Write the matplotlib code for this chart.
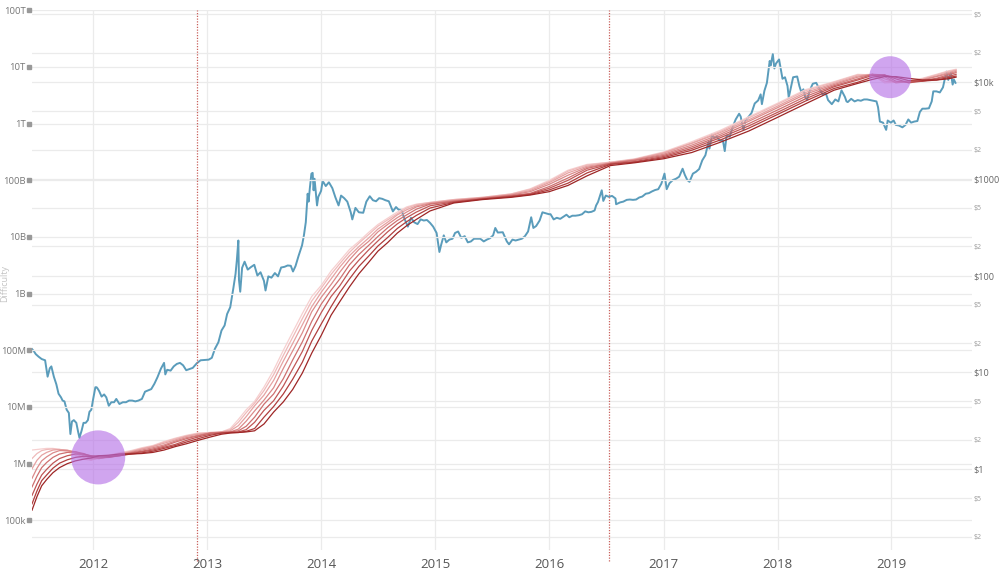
import matplotlib
matplotlib.use("Agg")
import matplotlib.pyplot as plt
import pandas as pd

# ---------------- data ----------------
price_dates = [
    # 2011
    "2011-06-18", "2011-06-25", "2011-07-01", "2011-07-10", "2011-07-20", "2011-07-31", "2011-08-08", "2011-08-15",
    "2011-08-20", "2011-08-28", "2011-09-05", "2011-09-12", "2011-09-20", "2011-09-25", "2011-10-01", "2011-10-08",
    "2011-10-15", "2011-10-20", "2011-10-25", "2011-10-31", "2011-11-08", "2011-11-14", "2011-11-18", "2011-11-25",
    "2011-12-01", "2011-12-08", "2011-12-15", "2011-12-20", "2011-12-26",
    # 2012
    "2012-01-01", "2012-01-08", "2012-01-12", "2012-01-15", "2012-01-20", "2012-01-28", "2012-02-05", "2012-02-12",
    "2012-02-20", "2012-02-28", "2012-03-08", "2012-03-15", "2012-03-25", "2012-04-05", "2012-04-15", "2012-04-25",
    "2012-05-05", "2012-05-15", "2012-05-25", "2012-06-05", "2012-06-15", "2012-06-25", "2012-07-05", "2012-07-15",
    "2012-07-25", "2012-08-05", "2012-08-15", "2012-08-19", "2012-08-25", "2012-09-05", "2012-09-15", "2012-09-25",
    "2012-10-05", "2012-10-15", "2012-10-25", "2012-11-05", "2012-11-15", "2012-11-28", "2012-12-10", "2012-12-25",
    # 2013
    "2013-01-05", "2013-01-15", "2013-01-25", "2013-02-05", "2013-02-15", "2013-02-25", "2013-03-05", "2013-03-15",
    "2013-03-25", "2013-04-01", "2013-04-05", "2013-04-10", "2013-04-12", "2013-04-16", "2013-04-22", "2013-04-30",
    "2013-05-10", "2013-05-20", "2013-05-31", "2013-06-10", "2013-06-20", "2013-07-01", "2013-07-06", "2013-07-15",
    "2013-07-25", "2013-08-05", "2013-08-15", "2013-08-25", "2013-09-05", "2013-09-15", "2013-09-25", "2013-10-02",
    "2013-10-10", "2013-10-20", "2013-10-31", "2013-11-06", "2013-11-12", "2013-11-18", "2013-11-21", "2013-11-25",
    "2013-11-30", "2013-12-04", "2013-12-07", "2013-12-10", "2013-12-18", "2013-12-22", "2013-12-31",
    # 2014
    "2014-01-05", "2014-01-15", "2014-01-25", "2014-02-05", "2014-02-15", "2014-02-25", "2014-03-05", "2014-03-15",
    "2014-03-25", "2014-04-05", "2014-04-10", "2014-04-20", "2014-05-01", "2014-05-15", "2014-05-25", "2014-06-05",
    "2014-06-15", "2014-06-25", "2014-07-05", "2014-07-15", "2014-07-25", "2014-08-05", "2014-08-18", "2014-08-28",
    "2014-09-05", "2014-09-15", "2014-09-22", "2014-10-05", "2014-10-15", "2014-10-25", "2014-11-05", "2014-11-15",
    "2014-11-25", "2014-12-05", "2014-12-15", "2014-12-25",
    # 2015
    "2015-01-05", "2015-01-14", "2015-01-20", "2015-01-28", "2015-02-05", "2015-02-15", "2015-02-25", "2015-03-05",
    "2015-03-15", "2015-03-25", "2015-04-05", "2015-04-15", "2015-04-25", "2015-05-05", "2015-05-15", "2015-05-25",
    "2015-06-05", "2015-06-15", "2015-06-25", "2015-07-05", "2015-07-12", "2015-07-20", "2015-08-05", "2015-08-18",
    "2015-08-25", "2015-09-05", "2015-09-15", "2015-09-25", "2015-10-05", "2015-10-15", "2015-10-25", "2015-11-04",
    "2015-11-11", "2015-11-20", "2015-12-01", "2015-12-10", "2015-12-20", "2015-12-31",
    # 2016
    "2016-01-05", "2016-01-15", "2016-01-25", "2016-02-05", "2016-02-15", "2016-02-25", "2016-03-05", "2016-03-15",
    "2016-03-25", "2016-04-05", "2016-04-15", "2016-04-25", "2016-05-05", "2016-05-15", "2016-05-25", "2016-05-30",
    "2016-06-05", "2016-06-12", "2016-06-17", "2016-06-22", "2016-06-30", "2016-07-10", "2016-07-20", "2016-07-31",
    "2016-08-02", "2016-08-15", "2016-08-25", "2016-09-05", "2016-09-15", "2016-09-25", "2016-10-05", "2016-10-15",
    "2016-10-25", "2016-11-05", "2016-11-15", "2016-11-25", "2016-12-05", "2016-12-15", "2016-12-25",
    # 2017
    "2017-01-04", "2017-01-11", "2017-01-20", "2017-01-31", "2017-02-10", "2017-02-20", "2017-03-03", "2017-03-10",
    "2017-03-18", "2017-03-25", "2017-04-05", "2017-04-15", "2017-04-25", "2017-05-05", "2017-05-15", "2017-05-25",
    "2017-05-28", "2017-06-06", "2017-06-12", "2017-06-20", "2017-06-30", "2017-07-10", "2017-07-16", "2017-07-22",
    "2017-08-01", "2017-08-10", "2017-08-20", "2017-08-31", "2017-09-05", "2017-09-14", "2017-09-20", "2017-09-30",
    "2017-10-10", "2017-10-20", "2017-10-31", "2017-11-08", "2017-11-12", "2017-11-20", "2017-11-28", "2017-12-07",
    "2017-12-10", "2017-12-17", "2017-12-22", "2017-12-27",
    # 2018
    "2018-01-06", "2018-01-10", "2018-01-17", "2018-01-25", "2018-02-02", "2018-02-06", "2018-02-12", "2018-02-20",
    "2018-03-05", "2018-03-12", "2018-03-18", "2018-03-25", "2018-03-31", "2018-04-06", "2018-04-15", "2018-04-24",
    "2018-05-05", "2018-05-15", "2018-05-25", "2018-06-05", "2018-06-12", "2018-06-24", "2018-07-05", "2018-07-15",
    "2018-07-25", "2018-08-05", "2018-08-10", "2018-08-14", "2018-08-25", "2018-09-05", "2018-09-15", "2018-09-25",
    "2018-10-05", "2018-10-15", "2018-10-25", "2018-11-05", "2018-11-14", "2018-11-19", "2018-11-25", "2018-12-05",
    "2018-12-15", "2018-12-20", "2018-12-30",
    # 2019
    "2019-01-08", "2019-01-15", "2019-01-25", "2019-02-05", "2019-02-15", "2019-02-24", "2019-03-05", "2019-03-15",
    "2019-03-25", "2019-04-02", "2019-04-10", "2019-04-20", "2019-05-01", "2019-05-10", "2019-05-15", "2019-05-25",
    "2019-06-05", "2019-06-15", "2019-06-26", "2019-07-02", "2019-07-10", "2019-07-16", "2019-07-20", "2019-07-25",
]
price_usd = [
    # 2011
    17.5, 16.5, 15.4, 14.5, 13.7, 13.3, 9.0, 11.0, 11.5, 9.0, 7.5, 6.0, 5.5, 5.1, 5.0, 4.1,
    3.8, 2.3, 3.1, 3.2, 3.0, 2.4, 2.1, 2.5, 3.0, 3.0, 3.2, 3.9, 4.1,
    # 2012
    5.3, 7.0, 7.0, 6.8, 6.4, 5.6, 5.9, 5.5, 4.5, 4.9, 4.9, 5.3, 4.7, 4.9, 4.9, 5.1,
    5.1, 5.0, 5.1, 5.3, 6.3, 6.5, 6.7, 7.6, 8.9, 10.9, 12.5, 9.5, 10.6, 10.4, 11.5, 12.2,
    12.5, 11.8, 10.5, 10.8, 11.1, 12.4, 13.3, 13.4,
    # 2013
    13.5, 14.1, 17.5, 20.4, 27, 30.5, 40, 47, 74, 104, 142, 230, 90, 68, 120, 139,
    115, 122, 129, 100, 108, 88, 70, 98, 95, 106, 98, 121, 123, 127, 126, 110,
    125, 160, 205, 260, 355, 700, 580, 800, 1130, 1150, 760, 1000, 530, 650, 750,
    # 2014
    950, 840, 920, 800, 640, 530, 670, 630, 580, 450, 380, 500, 450, 445, 580, 660,
    600, 585, 630, 620, 600, 585, 460, 510, 480, 475, 400, 320, 395, 355, 340, 380,
    370, 375, 350, 320,
    # 2015
    275, 175, 210, 260, 220, 235, 240, 275, 285, 245, 255, 220, 225, 240, 240, 240,
    225, 235, 243, 260, 310, 278, 280, 225, 210, 235, 230, 235, 240, 255, 285, 400,
    310, 325, 370, 450, 440, 430,
    # 2016
    430, 380, 395, 385, 405, 425, 400, 415, 415, 420, 430, 460, 450, 455, 470, 530,
    575, 680, 760, 590, 670, 650, 665, 625, 545, 570, 580, 605, 610, 605, 610, 640,
    655, 700, 710, 740, 765, 780, 890,
    # 2017
    1130, 780, 900, 970, 1000, 1050, 1270, 1100, 970, 930, 1130, 1180, 1260, 1550, 1750, 2400,
    2050, 2880, 2650, 2720, 2480, 2500, 1930, 2800, 2720, 3400, 4100, 4700, 4400, 3200, 4000, 4350,
    4800, 6000, 6450, 7450, 5900, 8100, 9800, 16500, 14800, 19400, 13800, 15500,
    # 2018
    17100, 14500, 10800, 11200, 9100, 6900, 8500, 11200, 11400, 9100, 7900, 8400, 6900, 6600, 8300, 9600,
    9800, 8500, 7500, 7600, 6500, 5900, 6600, 6300, 8200, 7000, 6300, 6200, 6700, 6300, 6500, 6400,
    6600, 6600, 6500, 6400, 6300, 5500, 3900, 3800, 3200, 4000, 3800,
    # 2019
    4000, 3600, 3550, 3400, 3600, 4100, 3800, 3900, 3950, 4900, 5300, 5300, 5350, 6300, 8000, 8000,
    7800, 8800, 12800, 10500, 12500, 9400, 10600, 9800,
]

ribbon_dates = [
    "2011-06-19", "2011-07-05", "2011-07-20", "2011-08-05", "2011-08-25", "2011-09-15", "2011-10-10", "2011-11-05",
    "2011-12-01", "2011-12-25", "2012-01-20", "2012-02-20", "2012-03-25", "2012-05-01", "2012-06-05", "2012-07-10",
    "2012-08-15", "2012-09-20", "2012-10-25", "2012-12-01", "2013-01-10", "2013-02-15", "2013-03-15", "2013-04-10",
    "2013-05-05", "2013-06-01", "2013-07-01", "2013-08-01", "2013-09-01", "2013-10-01", "2013-11-01", "2013-12-01",
    "2014-01-01", "2014-02-01", "2014-03-01", "2014-04-01", "2014-05-01", "2014-06-01", "2014-07-01", "2014-08-01",
    "2014-09-01", "2014-10-01", "2014-11-01", "2014-12-15", "2015-03-01", "2015-06-01", "2015-09-01", "2015-11-01",
    "2016-01-01", "2016-03-01", "2016-05-01", "2016-07-15", "2016-10-01", "2017-01-01", "2017-04-01", "2017-07-01",
    "2017-10-01", "2018-01-01", "2018-04-01", "2018-07-01", "2018-09-15", "2018-11-01", "2018-12-10", "2019-01-15",
    "2019-02-25", "2019-04-10", "2019-05-25", "2019-07-01", "2019-07-27",
]
difficulty_ma_9 = [
    1.74e6, 1.78e6, 1.82e6, 1.86e6, 1.86e6, 1.78e6, 1.62e6, 1.41e6, 1.20e6, 1.15e6, 1.29e6, 1.41e6, 1.55e6, 1.70e6,
    1.91e6, 2.09e6, 2.46e6, 2.82e6, 3.16e6, 3.47e6, 3.55e6, 3.63e6, 4.17e6, 6.03e6, 8.91e6, 1.26e7, 2.24e7, 4.47e7,
    1.00e8, 2.09e8, 4.47e8, 8.91e8, 1.41e9, 2.51e9, 3.80e9, 6.03e9, 8.32e9, 1.20e10, 1.66e10, 2.14e10, 2.75e10,
    3.39e10, 3.80e10, 4.07e10, 4.57e10, 5.01e10, 5.75e10, 7.08e10, 1.00e11, 1.51e11, 1.91e11, 2.09e11, 2.40e11,
    3.16e11, 4.79e11, 7.59e11, 1.32e12, 2.29e12, 3.98e12, 5.50e12, 7.41e12, 7.24e12, 5.25e12, 5.37e12, 5.75e12,
    6.31e12, 7.41e12, 8.51e12, 9.12e12,
]
difficulty_ma_14 = [
    1.23e6, 1.51e6, 1.70e6, 1.78e6, 1.82e6, 1.78e6, 1.70e6, 1.51e6, 1.29e6, 1.17e6, 1.26e6, 1.38e6, 1.51e6, 1.66e6,
    1.86e6, 2.04e6, 2.40e6, 2.75e6, 3.09e6, 3.39e6, 3.55e6, 3.63e6, 3.98e6, 5.37e6, 7.94e6, 1.17e7, 1.95e7, 3.72e7,
    8.13e7, 1.70e8, 3.63e8, 7.41e8, 1.26e9, 2.19e9, 3.39e9, 5.37e9, 7.76e9, 1.10e10, 1.55e10, 2.00e10, 2.57e10,
    3.24e10, 3.72e10, 4.07e10, 4.57e10, 5.01e10, 5.75e10, 6.92e10, 9.55e10, 1.45e11, 1.86e11, 2.09e11, 2.34e11,
    3.09e11, 4.57e11, 7.24e11, 1.26e12, 2.19e12, 3.80e12, 5.37e12, 7.24e12, 7.41e12, 5.62e12, 5.37e12, 5.62e12,
    6.17e12, 7.24e12, 8.32e12, 8.91e12,
]
difficulty_ma_25 = [
    8.13e5, 1.15e6, 1.41e6, 1.58e6, 1.74e6, 1.78e6, 1.74e6, 1.58e6, 1.38e6, 1.23e6, 1.23e6, 1.35e6, 1.48e6, 1.62e6,
    1.82e6, 2.00e6, 2.29e6, 2.63e6, 3.02e6, 3.31e6, 3.47e6, 3.63e6, 3.80e6, 4.68e6, 6.76e6, 1.05e7, 1.62e7, 2.95e7,
    6.46e7, 1.32e8, 2.82e8, 5.89e8, 1.07e9, 1.82e9, 2.95e9, 4.68e9, 6.76e9, 9.55e9, 1.38e10, 1.82e10, 2.45e10,
    3.02e10, 3.55e10, 3.98e10, 4.47e10, 4.90e10, 5.62e10, 6.61e10, 9.12e10, 1.35e11, 1.78e11, 2.04e11, 2.34e11,
    3.02e11, 4.47e11, 6.92e11, 1.17e12, 2.04e12, 3.55e12, 5.13e12, 6.92e12, 7.41e12, 6.17e12, 5.37e12, 5.62e12,
    6.03e12, 6.92e12, 7.94e12, 8.71e12,
]
difficulty_ma_40 = [
    5.50e5, 8.32e5, 1.12e6, 1.32e6, 1.55e6, 1.70e6, 1.70e6, 1.62e6, 1.45e6, 1.29e6, 1.23e6, 1.32e6, 1.45e6, 1.58e6,
    1.74e6, 1.91e6, 2.14e6, 2.51e6, 2.88e6, 3.16e6, 3.47e6, 3.55e6, 3.63e6, 4.07e6, 5.62e6, 8.51e6, 1.32e7, 2.19e7,
    4.79e7, 9.77e7, 2.04e8, 4.79e8, 8.71e8, 1.45e9, 2.40e9, 3.98e9, 6.03e9, 8.32e9, 1.23e10, 1.66e10, 2.19e10,
    2.75e10, 3.39e10, 3.89e10, 4.37e10, 4.90e10, 5.50e10, 6.31e10, 8.51e10, 1.23e11, 1.70e11, 2.00e11, 2.29e11,
    2.88e11, 4.17e11, 6.46e11, 1.10e12, 1.91e12, 3.31e12, 4.90e12, 6.61e12, 7.41e12, 6.76e12, 5.25e12, 5.50e12,
    5.89e12, 6.76e12, 7.59e12, 8.32e12,
]
difficulty_ma_60 = [
    3.89e5, 6.03e5, 8.51e5, 1.05e6, 1.29e6, 1.48e6, 1.58e6, 1.62e6, 1.51e6, 1.35e6, 1.26e6, 1.29e6, 1.41e6, 1.55e6,
    1.66e6, 1.82e6, 2.04e6, 2.40e6, 2.75e6, 3.09e6, 3.47e6, 3.55e6, 3.63e6, 3.80e6, 4.57e6, 6.61e6, 1.12e7, 1.70e7,
    3.16e7, 6.76e7, 1.41e8, 3.24e8, 6.61e8, 1.15e9, 1.82e9, 3.24e9, 4.90e9, 7.08e9, 1.02e10, 1.45e10, 1.95e10,
    2.45e10, 3.09e10, 3.80e10, 4.27e10, 4.79e10, 5.37e10, 5.89e10, 7.76e10, 1.10e11, 1.62e11, 2.00e11, 2.24e11,
    2.75e11, 3.89e11, 6.03e11, 1.00e12, 1.74e12, 3.02e12, 4.68e12, 6.17e12, 7.41e12, 7.24e12, 5.62e12, 5.37e12,
    5.75e12, 6.31e12, 7.24e12, 7.94e12,
]
difficulty_ma_90 = [
    2.75e5, 4.37e5, 6.31e5, 7.94e5, 1.02e6, 1.23e6, 1.38e6, 1.48e6, 1.48e6, 1.38e6, 1.32e6, 1.29e6, 1.38e6, 1.51e6,
    1.62e6, 1.74e6, 1.95e6, 2.19e6, 2.57e6, 2.95e6, 3.31e6, 3.47e6, 3.55e6, 3.63e6, 3.98e6, 5.37e6, 8.71e6, 1.29e7,
    2.34e7, 4.68e7, 9.55e7, 2.24e8, 4.68e8, 8.91e8, 1.38e9, 2.51e9, 3.89e9, 5.89e9, 8.51e9, 1.23e10, 1.70e10,
    2.19e10, 2.75e10, 3.55e10, 4.17e10, 4.68e10, 5.25e10, 5.75e10, 7.24e10, 1.00e11, 1.51e11, 1.95e11, 2.14e11,
    2.63e11, 3.63e11, 5.62e11, 9.12e11, 1.58e12, 2.75e12, 4.47e12, 5.89e12, 7.08e12, 7.24e12, 6.17e12, 5.25e12,
    5.62e12, 6.17e12, 6.76e12, 7.41e12,
]
difficulty_ma_128 = [
    1.95e5, 3.31e5, 5.01e5, 6.31e5, 8.32e5, 1.02e6, 1.17e6, 1.29e6, 1.35e6, 1.35e6, 1.38e6, 1.35e6, 1.38e6, 1.48e6,
    1.55e6, 1.66e6, 1.86e6, 2.09e6, 2.40e6, 2.75e6, 3.16e6, 3.47e6, 3.55e6, 3.55e6, 3.72e6, 4.17e6, 6.61e6, 1.02e7,
    1.70e7, 3.09e7, 6.17e7, 1.45e8, 2.95e8, 5.89e8, 1.05e9, 1.82e9, 3.02e9, 4.57e9, 6.92e9, 9.77e9, 1.41e10,
    1.86e10, 2.40e10, 3.24e10, 4.07e10, 4.68e10, 5.13e10, 5.62e10, 6.76e10, 8.91e10, 1.35e11, 1.91e11, 2.09e11,
    2.51e11, 3.39e11, 5.13e11, 8.32e11, 1.45e12, 2.51e12, 4.17e12, 5.37e12, 6.61e12, 7.08e12, 6.61e12, 5.75e12,
    5.62e12, 5.89e12, 6.46e12, 6.92e12,
]
difficulty_ma_200 = [
    1.51e5, 2.63e5, 4.07e5, 5.25e5, 6.92e5, 8.51e5, 1.00e6, 1.12e6, 1.20e6, 1.26e6, 1.38e6, 1.41e6, 1.48e6, 1.48e6,
    1.51e6, 1.58e6, 1.74e6, 2.00e6, 2.24e6, 2.57e6, 2.95e6, 3.31e6, 3.47e6, 3.55e6, 3.63e6, 3.80e6, 5.01e6, 8.13e6,
    1.23e7, 2.04e7, 3.98e7, 8.91e7, 1.86e8, 4.17e8, 7.24e8, 1.32e9, 2.24e9, 3.55e9, 5.62e9, 7.94e9, 1.17e10,
    1.58e10, 2.04e10, 2.88e10, 3.98e10, 4.57e10, 5.01e10, 5.50e10, 6.31e10, 8.13e10, 1.20e11, 1.82e11, 2.04e11,
    2.40e11, 3.09e11, 4.68e11, 7.41e11, 1.29e12, 2.24e12, 3.89e12, 5.13e12, 6.03e12, 6.76e12, 6.76e12, 6.31e12,
    5.89e12, 5.89e12, 6.17e12, 6.61e12,
]
ribbon_series = [difficulty_ma_9, difficulty_ma_14, difficulty_ma_25, difficulty_ma_40,
                 difficulty_ma_60, difficulty_ma_90, difficulty_ma_128, difficulty_ma_200]

halving_dates = ["2012-11-28", "2016-07-09"]
highlight_dates = ["2012-01-17", "2018-12-28"]
highlight_difficulty = [1.29e6, 6.6e12]
highlight_sizes = [1515, 912]

year_ticks = ["2012", "2013", "2014", "2015", "2016", "2017", "2018", "2019"]
left_ticks = [1e5, 1e6, 1e7, 1e8, 1e9, 1e10, 1e11, 1e12, 1e13, 1e14]
left_labels = ["100k", "1M", "10M", "100M", "1B", "10B", "100B", "1T", "10T", "100T"]
right_major = [1, 10, 100, 1000, 10000]
right_major_labels = ["$1", "$10", "$100", "$1000", "$10k"]
right_minor = [0.2, 0.5, 2, 5, 20, 50, 200, 500, 2000, 5000, 20000, 50000]
right_minor_labels = ["$2", "$5"] * 6

# ---------------- styling ----------------
plt.rcParams["font.family"] = ["Open Sans", "DejaVu Sans"]
ribbon_colors = ["#f6d0d0", "#efbaba", "#e6a2a2", "#db8a8a", "#ce7070", "#c05656", "#b03d3d", "#9e2626"]
grid_color = "#ebebeb"

fig = plt.figure(figsize=(10, 5.74), dpi=100)
W, H = 1000, 574
ax_left, ax_right, ax_top, ax_bottom = 32, 972, 10.3, 550
ax2 = fig.add_axes([ax_left / W, 1 - ax_bottom / H, (ax_right - ax_left) / W, (ax_bottom - ax_top) / H])
ax = ax2.twinx()
# ax2: price (right axis, drawn below); ax: difficulty (left axis, on top)
ax2.yaxis.tick_right()
ax.yaxis.tick_left()
ax.yaxis.set_label_position("left")
ax2.set_zorder(1)
ax.set_zorder(2)
ax.patch.set_visible(False)
ax2.patch.set_facecolor("white")

pdates = pd.to_datetime(price_dates)
rdates = pd.to_datetime(ribbon_dates)

ax2.plot(pdates, price_usd, color="#5a9cbb", lw=1.4, zorder=3)

for vals, col in zip(ribbon_series, ribbon_colors):
    ax.plot(rdates, vals, color=col, lw=0.9, zorder=3)

ax.scatter(pd.to_datetime(highlight_dates), highlight_difficulty, s=highlight_sizes,
           color="#b46ee6", alpha=0.62, edgecolors="none", zorder=6)

for d in halving_dates:
    ax.axvline(pd.Timestamp(d), color="#c9605c", lw=0.9, ls=(0, (1, 1.2)), zorder=2,
               ymin=-0.02, clip_on=False)

# scales / limits
ax.set_yscale("log")
ax2.set_yscale("log")
ax.set_ylim(10 ** 4.4766, 1e14)
ax2.set_ylim(10 ** -0.837, 10 ** 4.741)
ax2.set_xlim(pd.Timestamp("2011-06-19"), pd.Timestamp("2019-09-16"))

# x ticks
ax2.set_xticks(pd.to_datetime([y + "-01-01" for y in year_ticks]))
ax2.set_xticklabels(year_ticks)
ax2.tick_params(axis="x", length=0, pad=6, labelsize=9.5, labelcolor="#555555", labelbottom=True)
ax.tick_params(axis="x", length=0, labelbottom=False)

# left ticks
ax.set_yticks(left_ticks)
ax.set_yticklabels(left_labels)
ax.yaxis.set_minor_locator(matplotlib.ticker.NullLocator())
ax.tick_params(axis="y", length=0, pad=4.5, labelsize=6.8, labelcolor="#777777")
ax.plot([-0.0028] * len(left_ticks), left_ticks, ls="none", marker="s", ms=3.0, color="#999999",
        transform=ax.get_yaxis_transform(), clip_on=False, zorder=7)

# right ticks
ax2.set_yticks(right_major)
ax2.set_yticklabels(right_major_labels)
ax2.set_yticks(right_minor, minor=True)
ax2.set_yticklabels(right_minor_labels, minor=True)
ax2.tick_params(axis="y", which="major", length=0, pad=1.2, labelsize=6.6, labelcolor="#666666")
ax2.tick_params(axis="y", which="minor", length=0, pad=1.2, labelsize=5.0, labelcolor="#999999")

# grids (all on the bottom axes)
ax2.grid(True, which="both", axis="y", color=grid_color, lw=0.9, zorder=0)
ax2.grid(True, which="major", axis="x", color=grid_color, lw=0.9, zorder=0)
ax2.set_axisbelow(True)
for t in left_ticks:
    ax.axhline(t, color=grid_color, lw=0.9, zorder=0.5)

for a in (ax, ax2):
    for s in a.spines.values():
        s.set_visible(False)

fig.text(0.0045, 1 - 283 / H, "Difficulty", rotation=90, ha="center", va="center",
         fontsize=6.5, color="#c4c4c4")

fig.savefig("out.png", dpi=100)
